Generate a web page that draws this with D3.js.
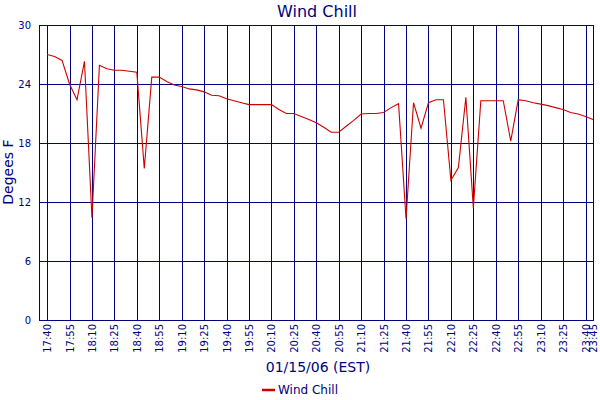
<!DOCTYPE html>
<html><head><meta charset="utf-8">
<script src="https://cdn.jsdelivr.net/npm/d3@7"></script>
<style>body{margin:0;background:#fff}svg{display:block}text{font-family:"DejaVu Sans",Verdana,sans-serif}</style>
</head><body><svg id="c" width="600" height="400"></svg>
<script>
const times = ["17:40","17:45","17:50","17:55","18:00","18:05","18:10","18:15","18:20","18:25","18:30","18:35","18:40","18:45","18:50","18:55","19:00","19:05","19:10","19:15","19:20","19:25","19:30","19:35","19:40","19:45","19:50","19:55","20:00","20:05","20:10","20:15","20:20","20:25","20:30","20:35","20:40","20:45","20:50","20:55","21:00","21:05","21:10","21:15","21:20","21:25","21:30","21:35","21:40","21:45","21:50","21:55","22:00","22:05","22:10","22:15","22:20","22:25","22:30","22:35","22:40","22:45","22:50","22:55","23:00","23:05","23:10","23:15","23:20","23:25","23:30","23:35","23:40","23:45"];
const windChill = [27.0,26.8,26.4,24.0,22.4,26.3,10.4,25.9,25.55,25.4,25.4,25.3,25.2,15.4,24.7,24.7,24.25,23.9,23.75,23.5,23.4,23.2,22.85,22.8,22.5,22.3,22.1,21.9,21.9,21.9,21.9,21.4,21.0,21.0,20.7,20.4,20.05,19.6,19.1,19.1,19.7,20.3,20.95,21.0,21.0,21.1,21.6,22.0,10.3,22.1,19.5,22.1,22.4,22.4,14.2,15.5,22.65,11.4,22.3,22.3,22.3,22.3,18.2,22.4,22.3,22.1,21.95,21.8,21.6,21.4,21.1,20.95,20.7,20.4];
const xTickLabels = ["17:40","17:55","18:10","18:25","18:40","18:55","19:10","19:25","19:40","19:55","20:10","20:25","20:40","20:55","21:10","21:25","21:40","21:55","22:10","22:25","22:40","22:55","23:10","23:25","23:40","23:45"];
const yTicks = [0,6,12,18,24,30];
const title = "Wind Chill", xTitle = "01/15/06 (EST)", yTitle = "Degees F", seriesName = "Wind Chill";

const parse = d3.timeParse("%Y-%m-%d %H:%M");
const toDate = s => parse("2006-01-15 " + s);
const data = times.map((t,i)=>({t:toDate(t), v:windChill[i]}));

const L=39, R=593, T=25, B=320;
const NAVY="#000080", RED="#cc0000";
const svg = d3.select("#c");
const start = new Date(toDate("17:40").getTime() - 5.4*60000);
const x = d3.scaleTime().domain([start, toDate("23:45")]).range([L,R]);
const y = d3.scaleLinear().domain([0,30]).range([B,T]);

const ya = svg.append("g").attr("transform",`translate(${L},0)`)
  .call(d3.axisLeft(y).tickValues(yTicks).tickSize(-(R-L)).tickPadding(8).tickFormat(d3.format("d")));
ya.select(".domain").remove();
ya.selectAll("line").attr("stroke",NAVY).attr("stroke-width",1).attr("shape-rendering","crispEdges");
ya.selectAll("text").attr("fill",NAVY).style("font-size","10px");

const xa = svg.append("g").attr("transform",`translate(0,${B})`)
  .call(d3.axisBottom(x).tickValues(xTickLabels.map(toDate)).tickSize(-(B-T)).tickPadding(0).tickFormat(d3.timeFormat("%H:%M")));
xa.select(".domain").remove();
xa.selectAll("line").attr("stroke",NAVY).attr("stroke-width",1).attr("shape-rendering","crispEdges");
xa.selectAll("text").attr("fill",NAVY).style("font-size","10px")
  .attr("transform","rotate(-90)").attr("text-anchor","end").attr("dy","0.35em").attr("x",-4).attr("y",0);

svg.append("rect").attr("x",L).attr("y",T).attr("width",R-L).attr("height",B-T)
  .attr("fill","none").attr("stroke",NAVY).attr("stroke-width",1).attr("shape-rendering","crispEdges");

svg.append("path").datum(data).attr("fill","none").attr("stroke",RED).attr("stroke-width",1.1)
  .attr("d", d3.line().x(d=>x(d.t)).y(d=>y(d.v)));

svg.append("text").attr("x",317).attr("y",17).attr("text-anchor","middle").attr("fill",NAVY).style("font-size","16px").text(title);
svg.append("text").attr("x",318).attr("y",372).attr("text-anchor","middle").attr("fill",NAVY).style("font-size","14px").text(xTitle);
svg.append("text").attr("transform","translate(13,172) rotate(-90)").attr("text-anchor","middle").attr("fill",NAVY).style("font-size","14px").text(yTitle);

svg.append("line").attr("x1",262).attr("x2",275).attr("y1",390).attr("y2",390).attr("stroke",RED).attr("stroke-width",2.5);
svg.append("text").attr("x",278).attr("y",394).attr("fill",NAVY).style("font-size","12px").text(seriesName);
</script></body></html>
